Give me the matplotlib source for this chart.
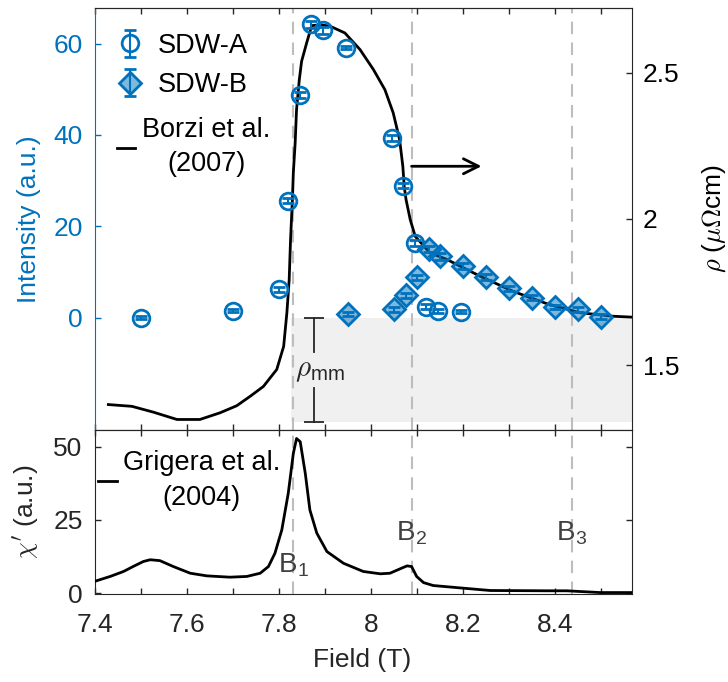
import matplotlib
matplotlib.use("Agg")
import matplotlib.pyplot as plt
from matplotlib.ticker import MultipleLocator

plt.rcParams['font.family'] = ['Liberation Sans', 'DejaVu Sans']
plt.rcParams['mathtext.fontset'] = 'cm'

blue = '#0072BD'
dark = '#262626'
fs = 19

# SDW-A neutron intensity (circles)
field_a = [7.5, 7.7, 7.8, 7.82, 7.845, 7.87, 7.895, 7.945, 8.045, 8.07, 8.095, 8.12, 8.145, 8.195]
int_a = [0.0, 1.5, 6.2, 25.6, 48.7, 64.2, 62.9, 59.1, 39.3, 28.9, 16.3, 2.4, 1.5, 1.3]
err_a = [0.3, 0.3, 0.5, 0.6, 0.6, 0.7, 0.7, 0.3, 0.6, 0.6, 0.7, 0.6, 0.5, 0.3]

# SDW-B neutron intensity (diamonds)
field_b = [7.95, 8.05, 8.075, 8.1, 8.125, 8.15, 8.2, 8.25, 8.3, 8.35, 8.4, 8.45, 8.5]
int_b = [0.75, 1.8, 4.9, 8.8, 15.0, 13.4, 11.35, 8.9, 6.4, 4.4, 2.35, 1.8, 0.2]
err_b = [0.5, 0.5, 0.6, 0.6, 0.7, 0.7, 0.6, 0.6, 0.6, 0.5, 0.5, 0.5, 0.5]

# Borzi et al. (2007) resistivity
field_rho = [7.429, 7.48, 7.527, 7.578, 7.628, 7.672, 7.708, 7.737, 7.766, 7.795, 7.81,
             7.817, 7.822, 7.825, 7.829, 7.831, 7.835, 7.838, 7.844, 7.849, 7.86, 7.871,
             7.889, 7.911, 7.943, 7.976, 8.005, 8.03, 8.048, 8.062, 8.069, 8.072, 8.076,
             8.085, 8.096, 8.128, 8.165, 8.237, 8.309, 8.382, 8.454, 8.527, 8.567]
rho = [1.365, 1.359, 1.339, 1.314, 1.314, 1.337, 1.361, 1.393, 1.427, 1.485, 1.564,
       1.679, 1.792, 1.93, 2.066, 2.157, 2.26, 2.374, 2.476, 2.539, 2.602, 2.661,
       2.664, 2.659, 2.636, 2.579, 2.511, 2.442, 2.363, 2.271, 2.18, 2.111, 2.066,
       1.998, 1.94, 1.884, 1.861, 1.804, 1.752, 1.71, 1.679, 1.667, 1.664]

# Grigera et al. (2004) susceptibility
field_chi = [7.398, 7.433, 7.462, 7.483, 7.505, 7.52, 7.541, 7.57, 7.607, 7.643, 7.693,
             7.73, 7.759, 7.777, 7.791, 7.806, 7.82, 7.831, 7.838, 7.846, 7.857, 7.867,
             7.882, 7.904, 7.94, 7.983, 8.02, 8.041, 8.063, 8.078, 8.088, 8.099, 8.114,
             8.135, 8.2, 8.259, 8.382, 8.425, 8.498, 8.567]
chi = [3.96, 5.7, 7.4, 9.1, 10.8, 11.4, 11.1, 9.1, 6.8, 5.9, 5.45,
       5.7, 6.8, 9.1, 13.6, 21.6, 34.1, 47.7, 52.8, 51.7, 40.9, 28.4,
       20.5, 14.2, 10.2, 7.4, 6.6, 6.8, 8.3, 9.3, 9.1, 5.7, 3.6,
       2.6, 1.7, 0.9, 0.8, 0.8, 0.2, 0.2]

# transition fields
b_fields = [7.831, 8.089, 8.437]
b_labels = [r'B$_\mathregular{1}$', r'B$_\mathregular{2}$', r'B$_\mathregular{3}$']
b_label_chi = [9.6, 20.6, 20.6]

# rho_mm band
rho_hi = 1.662
rho_lo = 1.306
band_x0 = 7.825
rho_mm_x = 7.877

xlim = (7.4, 8.567)

fig = plt.figure(figsize=(7.28, 6.82), dpi=100)
ax_int = fig.add_axes([0.1305, 0.3695, 0.7376, 0.6195])
ax_rho = ax_int.twinx()
ax_chi = fig.add_axes([0.1305, 0.129, 0.7376, 0.2405])

ax_int.set_zorder(ax_rho.get_zorder() + 1)
ax_int.patch.set_visible(False)
ax_rho.patch.set_visible(True)

# ---- resistivity side ----
ax_rho.fill_between([band_x0, xlim[1]], rho_lo, rho_hi, color='#f0f0f0', lw=0, zorder=0)
for bf in b_fields:
    ax_rho.axvline(bf, color='#bdbdbd', lw=1.5, ls=(0, (6, 4)), zorder=1)
borzi, = ax_rho.plot(field_rho, rho, color='black', lw=2, zorder=3)

# rho_mm marker
rho_gap_hi = 1.545
rho_gap_lo = 1.42
ax_rho.plot([rho_mm_x, rho_mm_x], [rho_hi, rho_gap_hi], color=dark, lw=1.3)
ax_rho.plot([rho_mm_x, rho_mm_x], [rho_gap_lo, rho_lo], color=dark, lw=1.3)
ax_rho.plot([rho_mm_x, rho_mm_x], [rho_hi, rho_lo], ls='', marker='_', ms=14, mew=1.3, color=dark)
ax_rho.text(rho_mm_x + 0.012, (rho_gap_hi + rho_gap_lo) / 2, r'$\rho_\mathregular{mm}$',
            ha='center', va='center', fontsize=21, color=dark)

# arrow pointing to right axis
ax_rho.annotate('', xy=(8.24, 2.18), xytext=(8.088, 2.18),
                arrowprops=dict(arrowstyle='->, head_length=0.6, head_width=0.3',
                                color='black', lw=2, mutation_scale=18, shrinkA=0, shrinkB=0))

ax_rho.set_ylim(1.278, 2.723)
ax_rho.set_yticks([1.5, 2, 2.5])
ax_rho.set_yticklabels(['1.5', '2', '2.5'])
ax_rho.tick_params(axis='y', direction='in', length=4, width=1, colors=dark,
                   labelcolor='black', labelsize=fs, pad=8)
ax_rho.set_ylabel(r'$\rho$ ($\mu\Omega$cm)', fontsize=fs, color='black')
ax_rho.yaxis.set_label_coords(1.127, 0.5)
for s in ['top', 'bottom', 'right']:
    ax_rho.spines[s].set_color(dark)
ax_rho.spines['left'].set_visible(False)

# ---- intensity side ----
eb_a = ax_int.errorbar(field_a, int_a, yerr=err_a, fmt='o', ms=12, mfc='none', mec=blue,
                       mew=2, color=blue, elinewidth=1.5, capsize=4, capthick=1.5, zorder=5)
eb_b = ax_int.errorbar(field_b, int_b, yerr=err_b, fmt='D', ms=11, mfc=(0.0, 0.447, 0.741, 0.5),
                       mec=blue, mew=2, color=blue, elinewidth=1.5, capsize=4, capthick=1.5, zorder=5)
ax_int.set_xlim(*xlim)
ax_int.set_ylim(-24.6, 67.9)
ax_int.set_yticks([0, 20, 40, 60])
ax_int.tick_params(axis='y', direction='in', length=4, width=1, colors=blue,
                   labelsize=fs, pad=9)
ax_int.set_ylabel('Intensity (a.u.)', fontsize=fs, color=blue)
ax_int.yaxis.set_label_coords(-0.1, 0.5)
ax_int.xaxis.set_major_locator(MultipleLocator(0.2))
ax_int.xaxis.set_minor_locator(MultipleLocator(0.1))
ax_int.tick_params(axis='x', which='both', direction='in', length=4, width=1, colors=dark,
                   top=True, bottom=True, labelbottom=False)
ax_int.spines['left'].set_color(blue)
ax_int.spines['right'].set_visible(False)
ax_int.spines['top'].set_color(dark)
ax_int.spines['bottom'].set_color(dark)

leg1 = ax_int.legend([eb_a, eb_b], ['SDW-A', 'SDW-B'], loc='upper left',
                     bbox_to_anchor=(0.04, 0.94), frameon=False, fontsize=fs + 0.5,
                     handlelength=1.0, handletextpad=0.53, borderaxespad=0, borderpad=0,
                     labelspacing=0.5)
ax_int.add_artist(leg1)
leg2 = ax_int.legend([borzi], ['Borzi et al.\n(2007)'], loc='upper left',
                     bbox_to_anchor=(0.041, 0.74), frameon=False, fontsize=fs + 0.5,
                     handlelength=0.66, handletextpad=0.26, borderaxespad=0, borderpad=0)
for t in leg2.get_texts():
    t.set_multialignment('center')
    t.set_linespacing(1.4)

# ---- susceptibility panel ----
for bf, bl, bc in zip(b_fields, b_labels, b_label_chi):
    ax_chi.axvline(bf, color='#bdbdbd', lw=1.5, ls=(0, (6, 4)), zorder=1)
    ax_chi.text(bf, bc, bl, ha='center', va='center', fontsize=fs + 1, color='#404040')
grig, = ax_chi.plot(field_chi, chi, color='black', lw=2, zorder=3)
ax_chi.set_xlim(*xlim)
ax_chi.set_ylim(-0.3, 55.7)
ax_chi.set_yticks([0, 25, 50])
ax_chi.xaxis.set_major_locator(MultipleLocator(0.2))
ax_chi.xaxis.set_minor_locator(MultipleLocator(0.1))
ax_chi.set_xticks([7.4, 7.6, 7.8, 8.0, 8.2, 8.4])
ax_chi.set_xticklabels(['7.4', '7.6', '7.8', '8', '8.2', '8.4'])
ax_chi.tick_params(axis='both', which='both', direction='in', length=4, width=1, colors=dark,
                   top=True, right=True, labelsize=fs)
ax_chi.tick_params(axis='x', pad=14)
ax_chi.tick_params(axis='y', pad=9)
for s in ax_chi.spines.values():
    s.set_color(dark)
ax_chi.set_ylabel(r"$\chi'$ (a.u.)", fontsize=fs, color=dark)
ax_chi.yaxis.set_label_coords(-0.1, 0.5)
ax_chi.set_xlabel('Field (T)', fontsize=fs, color=dark)
ax_chi.xaxis.set_label_coords(0.497, -0.33)
leg3 = ax_chi.legend([grig], ['Grigera et al.\n(2004)'], loc='upper left',
                     bbox_to_anchor=(0.006, 0.88), frameon=False, fontsize=fs + 0.5,
                     handlelength=0.7, handletextpad=0.22, borderaxespad=0, borderpad=0)
for t in leg3.get_texts():
    t.set_multialignment('center')
    t.set_linespacing(1.45)

fig.savefig('out.png', dpi=100)
